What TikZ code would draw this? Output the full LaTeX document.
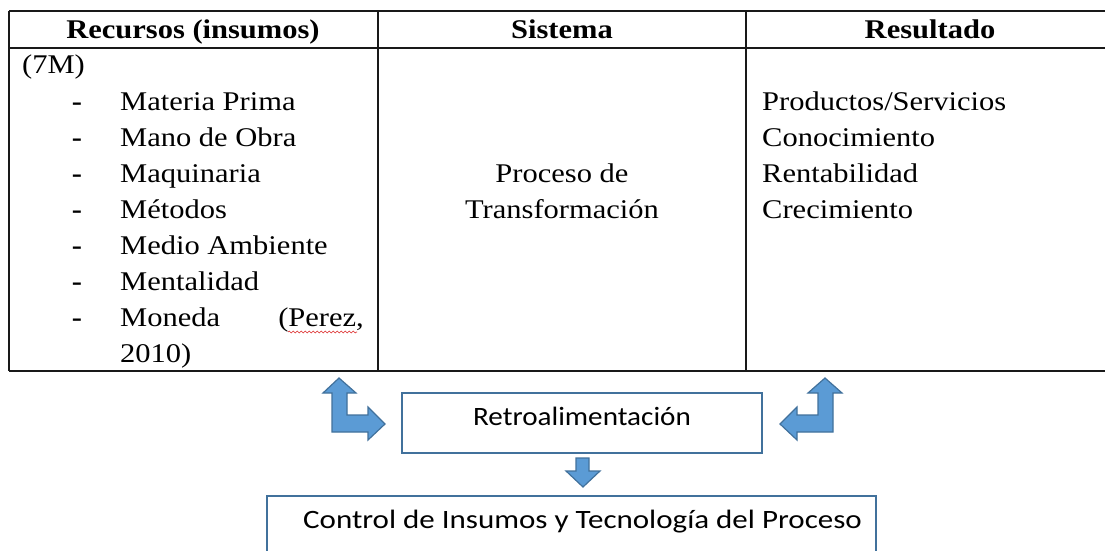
\documentclass[tikz,border=0pt]{standalone}
\usepackage{fontspec}
\setmainfont{Liberation Serif}[FakeStretch=1.13]
\newfontfamily\calibri{Carlito}[FakeStretch=1.1]
\newfontfamily\calibriwide{Carlito}[FakeStretch=1.17]
\usetikzlibrary{decorations.pathmorphing}
\definecolor{boxline}{RGB}{65,113,156}
\definecolor{arrowfill}{RGB}{91,155,213}
\definecolor{spellred}{RGB}{220,40,40}
\tikzset{
  grid/.style={draw=black!90, line width=1.7pt},
  txt/.style={inner sep=0pt, anchor=base west, font=\fontsize{27}{36}\selectfont},
  head/.style={inner sep=0pt, anchor=base, font=\fontsize{27}{36}\selectfont\bfseries},
  ctxt/.style={inner sep=0pt, anchor=base, font=\fontsize{27}{36}\selectfont},
  dashmark/.style={inner sep=0pt, anchor=base, font=\fontsize{27}{36}\selectfont\bfseries},
  cal/.style={inner sep=0pt, anchor=base, font=\calibri\fontsize{26.5}{32}\selectfont},
  calw/.style={inner sep=0pt, anchor=base, font=\calibriwide\fontsize{26.5}{32}\selectfont},
  bluebox/.style={draw=boxline, line width=2pt, inner sep=0pt},
  bigarrow/.style={draw=boxline, fill=arrowfill, line width=1.2pt, line join=miter},
}
\begin{document}
\begin{tikzpicture}[x=1pt, y=-1pt]
\clip (0,0) rectangle (1105,551);
\fill[white] (0,0) rectangle (1105,551);
% table grid
\draw[grid] (9,11) -- (1115,11);
\draw[grid] (9,48) -- (1115,48);
\draw[grid] (9,371) -- (1115,371);
\draw[grid] (9,11) -- (9,371);
\draw[grid] (378,11) -- (378,371);
\draw[grid] (746,11) -- (746,371);
% headers
\node[head] (h1) at (193,38) {Recursos (insumos)};
\node[head] (h2) at (562,38) {Sistema};
\node[head] (h3) at (930,38) {Resultado};
% column 1
\node[txt] (m0) at (22,74) {(7M)};
\foreach \y/\t [count=\i] in {110/Materia Prima,146/Mano de Obra,182/Maquinaria,218/Métodos,254/Medio Ambiente,290/Mentalidad,326/Moneda}{
  \node[dashmark] (d\i) at (77,\y) {-};
  \node[txt] (m\i) at (120,\y) {\t};
}
\node[inner sep=0pt, anchor=base east, font=\fontsize{27}{36}\selectfont] (per) at (364,326) {(Perez,};
\node[txt] (yr) at (120,362) {2010)};
\draw[spellred, line width=0.6pt, decorate, decoration={snake, amplitude=0.9pt, segment length=4pt}] (288,332) -- (357,332);
% column 2
\node[ctxt] (s1) at (562,182) {Proceso de};
\node[ctxt] (s2) at (562,218) {Transformación};
% column 3
\node[txt] (r1) at (762,110) {Productos/Servicios};
\node[txt] (r2) at (762,146) {Conocimiento};
\node[txt] (r3) at (762,182) {Rentabilidad};
\node[txt] (r4) at (762,218) {Crecimiento};
% boxes
\node[bluebox, minimum width=360pt, minimum height=60pt] (retro) at (582,422.5) {};
\node[cal] (retrot) at (582,425) {Retroalimentación};
\node[bluebox, minimum width=609pt, minimum height=70pt, anchor=north] (ctl) at (571.5,495) {};
\node[calw] (ctlt) at (582.5,528) {Control de Insumos y Tecnología del Proceso};
% bent arrows
\draw[bigarrow] (339,378) -- (356,393) -- (347,393) -- (347,415) -- (368,415) -- (368,407) -- (385,424) -- (368,440) -- (368,432) -- (332,432) -- (332,393) -- (323,393) -- cycle;
\draw[bigarrow] (825,378) -- (842,393) -- (833,393) -- (833,432) -- (797,432) -- (797,440) -- (780,424) -- (797,407) -- (797,415) -- (818,415) -- (818,393) -- (808,393) -- cycle;
% down arrow
\draw[bigarrow] (576,458) -- (589,458) -- (589,471) -- (600,471) -- (583,487) -- (566,471) -- (576,471) -- cycle;
\end{tikzpicture}
\end{document}
